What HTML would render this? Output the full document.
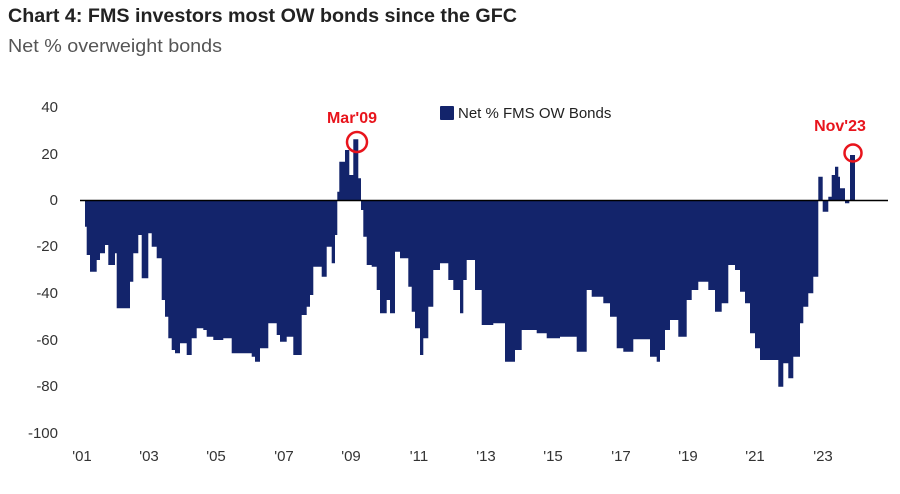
<!DOCTYPE html>
<html><head><meta charset="utf-8"><style>
body{margin:0;background:#fff;width:900px;height:489px;overflow:hidden;font-family:"Liberation Sans",sans-serif}
</style></head><body>
<svg width="900" height="489" xmlns="http://www.w3.org/2000/svg">
<text x="8" y="22" font-family="'Liberation Sans Narrow','Liberation Sans',sans-serif" font-weight="bold" font-size="19" fill="#222" textLength="509" lengthAdjust="spacingAndGlyphs">Chart 4: FMS investors most OW bonds since the GFC</text>
<text x="8" y="52" font-family="'Liberation Sans Narrow','Liberation Sans',sans-serif" font-size="18" fill="#555" textLength="214" lengthAdjust="spacingAndGlyphs">Net % overweight bonds</text>
<path id="bars" fill="#13246b" d=""/>
<line x1="80" y1="200.5" x2="888" y2="200.5" stroke="#000" stroke-width="1.5"/>
<g font-size="15" fill="#333" text-anchor="end">
<text x="58" y="112">40</text><text x="58" y="159">20</text><text x="58" y="205">0</text>
<text x="58" y="251">-20</text><text x="58" y="298">-40</text><text x="58" y="345">-60</text>
<text x="58" y="391">-80</text><text x="58" y="438">-100</text>
</g>
<g font-size="15" fill="#333" text-anchor="middle">
<text x="82" y="461">'01</text><text x="149" y="461">'03</text><text x="216" y="461">'05</text>
<text x="284" y="461">'07</text><text x="351" y="461">'09</text><text x="419" y="461">'11</text>
<text x="486" y="461">'13</text><text x="553" y="461">'15</text><text x="621" y="461">'17</text>
<text x="688" y="461">'19</text><text x="755" y="461">'21</text><text x="823" y="461">'23</text>
</g>
<rect x="440" y="106" width="14" height="14" fill="#13246b" rx="1"/>
<text x="458" y="118" font-size="15" fill="#222">Net % FMS OW Bonds</text>
<text x="352" y="123" font-size="16" font-weight="bold" fill="#e8141c" text-anchor="middle">Mar'09</text>
<circle cx="357" cy="142" r="10" fill="none" stroke="#e8141c" stroke-width="2.5"/>
<text x="840" y="131" font-size="16" font-weight="bold" fill="#e8141c" text-anchor="middle">Nov'23</text>
<circle cx="853" cy="153" r="8.5" fill="none" stroke="#e8141c" stroke-width="2.5"/>
</svg>
<script>
var z1=[[75,410],[80,495],[90,545],[110,510],[120,490],[135,465],[145,525],[165,490],[170,655],[210,575],[220,490],[235,435],[245,565],[265,430],[275,470],[290,505],[305,630],[315,680],[325,745],[335,780],[345,790],[360,760],[380,795],[395,745],[410,715],[430,720],[440,740],[460,750],[490,745],[515,790],[545,790],[575,800],[585,815],[600,775],[625,700],[650,735],[660,755],[680,740],[700,795],[725,675],[740,650],[750,615],[760,530],[770,530],[785,560],[800,470],[815,520],[825,435],[832,305],[838,215],[855,180],[868,255],[880,148],[895,265],[903,360],[910,440],[920,525],[935,530],[950,600],[960,670],[980,630],[990,670],[1005,485],[1020,505],[1045,590],[1055,665],[1065,715],[1080,795],[1090,745],[1105,650],[1120,540],[1140,520],[1165,570],[1180,600]];
var z2=[[0,670],[10,570],[20,510],[45,600],[65,705],[100,700],[135,815],[165,780],[185,720],[230,730],[260,745],[300,740],[350,785],[380,600],[395,620],[430,640],[450,680],[470,775],[490,785],[520,748],[570,800],[590,815],[600,780],[615,720],[630,690],[655,740],[680,630],[695,600],[715,575],[745,600],[765,665],[785,640],[805,525],[825,540],[840,605],[855,640],[870,730],[885,775],[900,810],[955,890],[970,820],[985,865],[1000,800],[1020,700],[1030,650],[1045,610],[1060,560],[1075,260],[1088,365],[1105,320],[1115,255],[1125,230],[1135,260],[1140,295],[1155,340],[1168,330],[1170,195],[1185,330]];
var pts=[];
z1.forEach(function(p){pts.push([60+p[0]/3,90+p[1]/3]);});
z2.forEach(function(p){pts.push([460+p[0]/3,90+p[1]/3]);});
var d="M"+pts[0][0].toFixed(1)+",200";
for(var i=0;i<pts.length;i++){d+=" V"+pts[i][1].toFixed(1);var nx=(i+1<pts.length)?pts[i+1][0]:pts[i][0]+3;d+=" H"+nx.toFixed(1);}
d+=" V200 Z";
document.getElementById("bars").setAttribute("d",d);
</script>
</body></html>
